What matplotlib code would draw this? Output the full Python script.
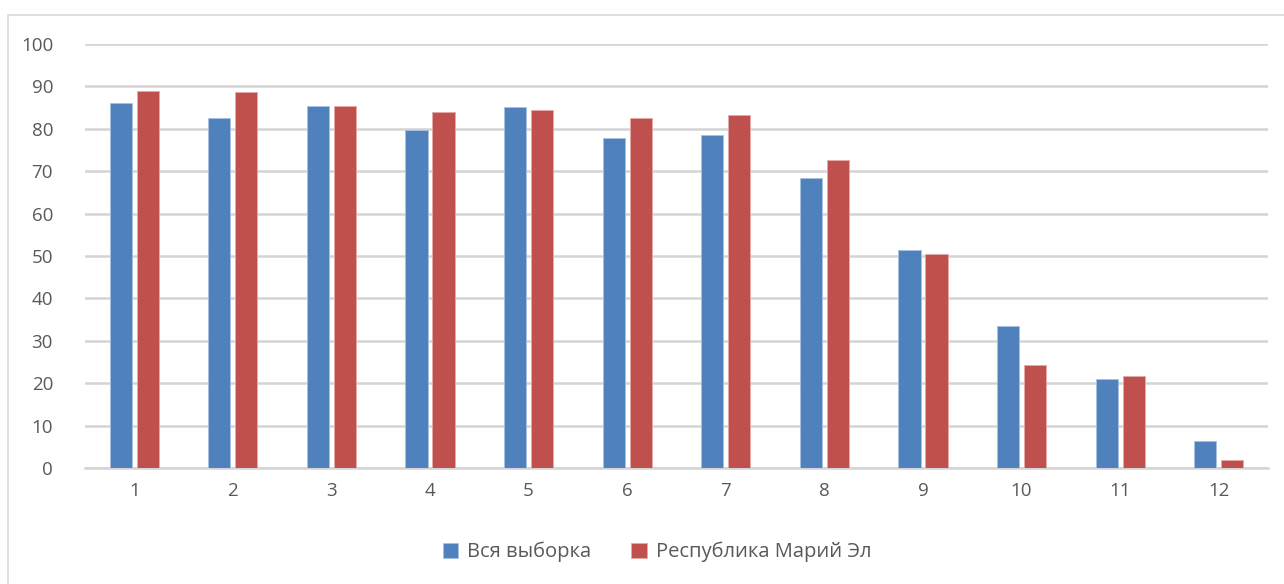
import numpy as np
import matplotlib.pyplot as plt
from matplotlib.patches import Rectangle

categories = ['1', '2', '3', '4', '5', '6', '7', '8', '9', '10', '11', '12']
all_sample = [86.0, 82.5, 85.4, 79.7, 85.2, 77.8, 78.5, 68.3, 51.3, 33.6, 20.9, 6.4]
mari_el = [89.0, 88.6, 85.4, 84.0, 84.4, 82.5, 83.2, 72.7, 50.5, 24.4, 21.8, 1.8]

plt.rcParams['font.family'] = ['Open Sans', 'DejaVu Sans']
txt = '#595959'

fig = plt.figure(figsize=(12.84, 5.84), dpi=100)
# chart frame, right and bottom edges run off the image
fig.patches.append(Rectangle((8 / 1284, -0.05), 1.1, 1 - 15 / 584 + 0.05,
                             transform=fig.transFigure, fill=False,
                             edgecolor='#d9d9d9', linewidth=1.2))
ax = fig.add_axes([85 / 1284, 1 - 468 / 584, 1183 / 1284, 424 / 584])

x = np.arange(len(categories))
w = 0.225
ax.bar(x - 0.137, all_sample, w, color='#4f81bd', edgecolor='#a8c1e0',
       linewidth=0.6, label='Вся выборка', zorder=3)
ax.bar(x + 0.137, mari_el, w, color='#c0504d', edgecolor='#e6a9a7',
       linewidth=0.6, label='Республика Марий Эл', zorder=3)

ax.set_xlim(-0.5, len(categories) - 0.5)
ax.set_ylim(0, 100)
ax.set_yticks(range(0, 101, 10))
ax.set_xticks(x)
ax.set_xticklabels(categories)
ax.yaxis.grid(True, color='#d4d4d4', linewidth=1.8, zorder=0)
for s in ['top', 'right', 'left']:
    ax.spines[s].set_visible(False)
ax.spines['bottom'].set_color('#d4d4d4')
ax.spines['bottom'].set_linewidth(1.8)
ax.tick_params(axis='both', length=0, labelsize=13.5, colors=txt)
ax.tick_params(axis='y', pad=23)
ax.tick_params(axis='x', pad=10)

leg = fig.legend(loc='center', bbox_to_anchor=(657 / 1284, 1 - 552 / 584), ncol=2,
                 frameon=False, fontsize=14.5, handlelength=0.75, handleheight=0.75,
                 handletextpad=0.45, columnspacing=2.0)
for t in leg.get_texts():
    t.set_color(txt)

fig.savefig('out.png', dpi=100)
